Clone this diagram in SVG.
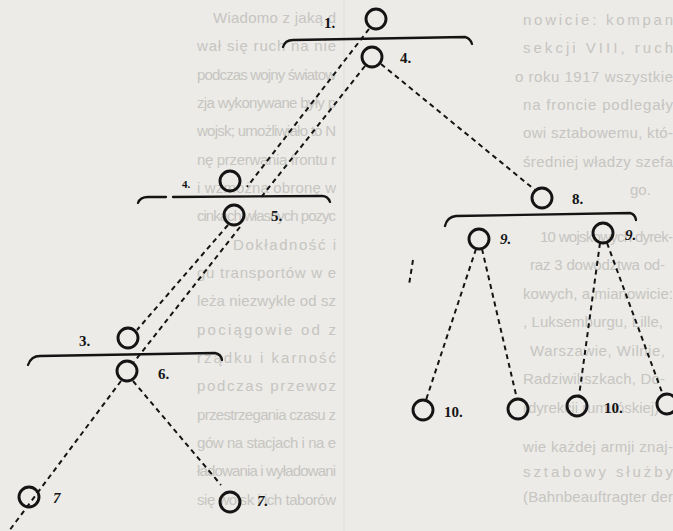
<svg xmlns="http://www.w3.org/2000/svg" width="673" height="531" viewBox="0 0 673 531">
<defs>
<style>
.bg{fill:#ecebe7}
.pg{font-family:"Liberation Sans","DejaVu Sans",sans-serif;font-size:15px;fill:#c6c5c1}
.nd circle{fill:none;stroke:#141414;stroke-width:2.9}
.lb{font-family:"Liberation Serif","DejaVu Serif",serif;font-weight:bold;font-size:15px;fill:#141414}
.br{fill:none;stroke:#141414;stroke-width:2.3;stroke-linecap:round}
.ds{fill:none;stroke:#141414;stroke-width:2;stroke-dasharray:5 4}
</style>
</defs>
<rect class="bg" x="0" y="0" width="673" height="531"/>
<line x1="344" y1="0" x2="344" y2="531" stroke="#dfded9" stroke-width="1"/>
<g id="page-text" class="pg">
<text x="213" y="23" textLength="123" lengthAdjust="spacing">Wiadomo z jaką d</text>
<text x="197" y="51" textLength="139" lengthAdjust="spacing">wał się ruch na nie</text>
<text x="197" y="80" textLength="139" lengthAdjust="spacing">podczas wojny światow</text>
<text x="197" y="108" textLength="139" lengthAdjust="spacing">zja wykonywane były p</text>
<text x="197" y="136" textLength="139" lengthAdjust="spacing">wojsk; umożliwiało to N</text>
<text x="197" y="165" textLength="139" lengthAdjust="spacing">nę przerwania frontu r</text>
<text x="197" y="193" textLength="139" lengthAdjust="spacing">i wzmożna obronę w</text>
<text x="197" y="221" textLength="139" lengthAdjust="spacing">cinkach własnych pozyc</text>
<text x="233" y="250" textLength="103" lengthAdjust="spacing">Dokładność i</text>
<text x="197" y="278" textLength="139" lengthAdjust="spacing">gu transportów w e</text>
<text x="197" y="306" textLength="139" lengthAdjust="spacing">leża niezwykle od sz</text>
<text x="197" y="335" textLength="139" lengthAdjust="spacing">pociągowie od z</text>
<text x="197" y="363" textLength="139" lengthAdjust="spacing">rządku i karność</text>
<text x="197" y="391" textLength="139" lengthAdjust="spacing">podczas przewoz</text>
<text x="197" y="420" textLength="139" lengthAdjust="spacing">przestrzegania czasu z</text>
<text x="197" y="448" textLength="139" lengthAdjust="spacing">gów na stacjach i na e</text>
<text x="197" y="476" textLength="139" lengthAdjust="spacing">ładowania i wyładowani</text>
<text x="197" y="505" textLength="139" lengthAdjust="spacing">się wojsk i ich taborów</text>
<text x="523" y="25" textLength="150" lengthAdjust="spacing">nowicie: kompan</text>
<text x="523" y="53" textLength="150" lengthAdjust="spacing">sekcji VIII, ruch</text>
<text x="515" y="82" textLength="158" lengthAdjust="spacing">o roku 1917 wszystkie</text>
<text x="523" y="110" textLength="150" lengthAdjust="spacing">na froncie podlegały</text>
<text x="523" y="138" textLength="150" lengthAdjust="spacing">owi sztabowemu, któ-</text>
<text x="523" y="167" textLength="150" lengthAdjust="spacing">średniej władzy szefa</text>
<text x="630" y="195">go.</text>
<text x="540" y="242" textLength="133" lengthAdjust="spacing">10 wojskowych dyrek-</text>
<text x="530" y="270" textLength="135" lengthAdjust="spacing">raz 3 dowództwa od-</text>
<text x="523" y="299" textLength="150" lengthAdjust="spacing">kowych, a mianowicie:</text>
<text x="523" y="327" textLength="140" lengthAdjust="spacing">, Luksemburgu, Lille,</text>
<text x="530" y="356" textLength="135" lengthAdjust="spacing">Warszawie, Wilnie,</text>
<text x="523" y="384" textLength="142" lengthAdjust="spacing">Radziwiliszkach, Do-</text>
<text x="523" y="413" textLength="140" lengthAdjust="spacing">(dyrekcji rumuńskiej).</text>
<text x="523" y="452" textLength="150" lengthAdjust="spacing">wie każdej armji znaj-</text>
<text x="523" y="477" textLength="150" lengthAdjust="spacing">sztabowy służby</text>
<text x="523" y="502" textLength="150" lengthAdjust="spacing">(Bahnbeauftragter der</text>
</g>
<g id="connectors">
<path class="br" d="M283,47 Q285,40 293,40 L465,37 Q470,38 472,44"/>
<path class="br" d="M138,203 Q140,197 148,197 L166,197 M173,197 L322,196 Q328,196 330,202"/>
<path class="br" d="M445,226 Q447,217 456,216 L630,213 Q635,214 636,220"/>
<path class="br" d="M28,365 Q31,356 40,356 L215,353 Q221,354 222,360"/>
<path class="ds" d="M369,29 L247,187"/>
<path class="ds" d="M365,66 L259,200"/>
<path class="ds" d="M381,64 L535,190"/>
<path class="ds" d="M228,225 L137,330"/>
<path class="ds" d="M240,227 L134,362"/>
<path class="ds" d="M121,381 L9,531"/>
<path class="ds" d="M133,381 L221,485"/>
<path class="ds" d="M476,249 L426,400"/>
<path class="ds" d="M482,249 L517,399"/>
<path class="ds" d="M600,243 L579,396"/>
<path class="ds" d="M607,243 L663,395"/>
<path class="ds" d="M413,260 L409,285"/>
</g>
<g id="n1" class="nd"><circle cx="376" cy="19" r="10"/><text class="lb" x="324" y="28">1.</text></g>
<g id="n4" class="nd"><circle cx="372" cy="57" r="10"/><text class="lb" x="400" y="63">4.</text></g>
<g id="n4b" class="nd"><circle cx="230" cy="181" r="10"/><text class="lb" x="182" y="188" style="font-size:11px">4.</text></g>
<g id="n5" class="nd"><circle cx="234" cy="215" r="10"/><text class="lb" x="271" y="221">5.</text></g>
<g id="n3" class="nd"><circle cx="128" cy="338" r="10"/><text class="lb" x="79" y="346">3.</text></g>
<g id="n6" class="nd"><circle cx="127" cy="371" r="10"/><text class="lb" x="158" y="379">6.</text></g>
<g id="n7a" class="nd"><circle cx="29" cy="497" r="10"/><text class="lb" x="53" y="503" font-style="italic">7</text></g>
<g id="n7b" class="nd"><circle cx="230" cy="502" r="10"/><text class="lb" x="257" y="506" font-style="italic">7.</text></g>
<g id="n8" class="nd"><circle cx="542" cy="198" r="10"/><text class="lb" x="572" y="204">8.</text></g>
<g id="n9a" class="nd"><circle cx="479" cy="239" r="10"/><text class="lb" x="500" y="244" font-style="italic">9.</text></g>
<g id="n9b" class="nd"><circle cx="603" cy="233" r="10"/><text class="lb" x="625" y="240" font-style="italic">9.</text></g>
<g id="n10a" class="nd"><circle cx="423" cy="410" r="10"/><text class="lb" x="444" y="417">10.</text></g>
<g id="n10b" class="nd"><circle cx="518" cy="409" r="10"/></g>
<g id="n10c" class="nd"><circle cx="577" cy="406" r="10"/><text class="lb" x="604" y="413">10.</text></g>
<g id="n10d" class="nd"><circle cx="667" cy="404" r="10"/></g>
</svg>
